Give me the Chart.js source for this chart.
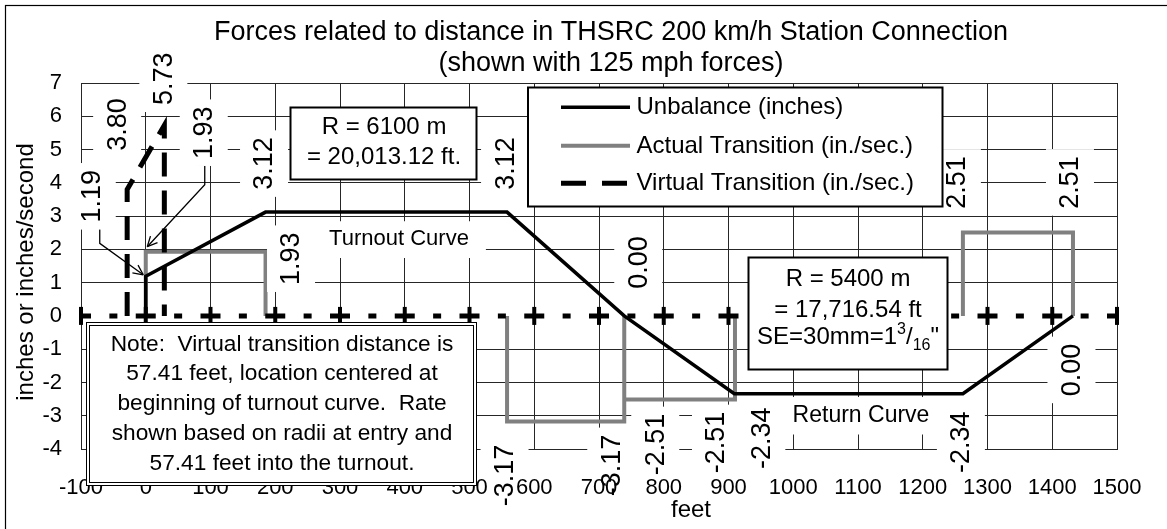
<!DOCTYPE html>
<html>
<head>
<meta charset="utf-8">
<title>Forces related to distance in THSRC 200 km/h Station Connection</title>
<script src="https://cdn.jsdelivr.net/npm/chart.js@4.4.0/dist/chart.umd.min.js"></script>
<style>
  html, body { margin: 0; padding: 0; overflow: hidden; background: #fff; }
  canvas { display: block; }
</style>
</head>
<body>
<canvas id="chart" width="1222" height="560"></canvas>
<script>
// ---- Data -------------------------------------------------------------
// Unbalance (inches) along the connection, by distance in feet
const unbalanceFeet   = [0, 0, 185, 558, 739, 909, 1262, 1432];
const unbalanceInches = [0, 1.19, 3.12, 3.12, 0, -2.34, -2.34, 0];

// Actual transition rate (in./sec.); null breaks the line where the rate sits on zero
const actualFeet = [0, 0, 185, 185, null, 558, 558, 739, 739, 739, 910, 910, null, 1262, 1262, 1432, 1432];
const actualRate = [0, 1.93, 1.93, 0, null, 0, -3.17, -3.17, 0, -2.51, -2.51, 0, null, 0, 2.51, 2.51, 0];

// Virtual transition rate (in./sec.), 57.41 ft centred on the turnout curve start
const virtualFeet = [-28.705, -28.705, 28.705, 28.705];
const virtualRate = [0, 3.80, 5.73, 0];

// Virtual transition at zero rate, drawn across the whole axis
const zeroLineFeet = [-100, 1500];
const zeroLineRate = [0, 0];

// Tick values
const xTickValues = [-100, 0, 100, 200, 300, 400, 500, 600, 700, 800, 900, 1000, 1100, 1200, 1300, 1400, 1500];
const yTickValues = [-4, -3, -2, -1, 0, 1, 2, 3, 4, 5, 6, 7];

// Which points carry a value label
const unbalanceLabelled = [1, 2, 3, 4, 5, 6, 7];
const actualLabelled    = [1, 2, 6, 7, 9, 10, 14, 15];
const virtualLabelled   = [1, 2];

// ---- Styling ----------------------------------------------------------
const FONT = "'Liberation Sans', Arial, Helvetica, sans-serif";
const GRID = '#262626';

// label centre offsets from the point, in pixels: [dx, dy, leader?]
const labelOffsets = {
  virtual:   { 1: [-10, -65], 2: [-1, -46.5] },
  unbalance: { 1: [-54, -80, [[-56, -54], [-46, -54], [-46, -33], [-2.5, -1.5]]],
               2: [-1.5, -48.5], 3: [-2, -48.5], 4: [14, -53.5],
               5: [27, 44.5], 6: [-2, 48.5], 7: [-1.5, 54] },
  actual:    { 1: [58, -119, [[50, -87], [59, -87], [59, -67], [1.5, -5]]],
               2: [25.5, 7], 6: [-2.5, 54], 7: [-13, 44],
               9: [31, 45], 10: [-19, 43], 14: [-6, -50], 15: [-3, -50] }
};

const pts = (xs, ys) => xs.map((x, i) => ({ x: x, y: ys[i] }));

function axisDash(chart) {
  const sx = chart.scales && chart.scales.x;
  let period = 64.75;
  if (sx && sx.width) period = sx.getPixelForValue(0) - sx.getPixelForValue(-100);
  const longDash = 20, shortDash = 8;
  const gap = (period - longDash - shortDash) / 2;
  return [longDash, gap, shortDash, gap];
}

function verticalLabel(ctx, text, cx, cy) {
  ctx.save();
  ctx.font = '27px ' + FONT;
  const w = ctx.measureText(text).width;
  ctx.fillStyle = '#fff';
  ctx.fillRect(cx - 24, cy - w / 2 - 7, 48, w + 14);
  ctx.translate(cx, cy);
  ctx.rotate(-Math.PI / 2);
  ctx.fillStyle = '#000';
  ctx.textAlign = 'center';
  ctx.textBaseline = 'middle';
  ctx.fillText(text, 0, 1);
  ctx.restore();
}

function leader(ctx, px, py, path) {
  ctx.save();
  ctx.strokeStyle = '#000';
  ctx.lineWidth = 1.3;
  ctx.beginPath();
  path.forEach((p, i) => {
    const x = px + p[0], y = py + p[1];
    if (i === 0) ctx.moveTo(x, y); else ctx.lineTo(x, y);
  });
  ctx.stroke();
  // open arrow head at the last point
  const a = path[path.length - 2], b = path[path.length - 1];
  const ang = Math.atan2(b[1] - a[1], b[0] - a[0]);
  const tx = px + b[0], ty = py + b[1];
  ctx.beginPath();
  [ang + Math.PI - 0.45, ang + Math.PI + 0.45].forEach(t => {
    ctx.moveTo(tx, ty);
    ctx.lineTo(tx + 11 * Math.cos(t), ty + 11 * Math.sin(t));
  });
  ctx.stroke();
  ctx.restore();
}

function textBox(ctx, x, y, w, h, lw) {
  ctx.save();
  ctx.fillStyle = '#fff';
  ctx.fillRect(x, y, w, h);
  ctx.strokeStyle = '#000';
  ctx.lineWidth = lw;
  ctx.strokeRect(x, y, w, h);
  ctx.restore();
}

function centredText(ctx, text, cx, baseline, size) {
  ctx.save();
  ctx.font = size + 'px ' + FONT;
  ctx.fillStyle = '#000';
  ctx.textAlign = 'center';
  ctx.textBaseline = 'alphabetic';
  ctx.fillText(text, cx, baseline);
  ctx.restore();
}

function labelWithPaper(ctx, text, cx, baseline, size, padX, padTop, padBottom) {
  ctx.save();
  ctx.font = size + 'px ' + FONT;
  const w = ctx.measureText(text).width;
  const cap = size * 0.716;
  ctx.fillStyle = '#fff';
  ctx.fillRect(cx - w / 2 - padX, baseline - cap - padTop, w + 2 * padX, cap + padTop + padBottom);
  ctx.restore();
  centredText(ctx, text, cx, baseline, size);
}

const decorations = {
  id: 'decorations',
  afterDatasetsDraw(chart) {
    const ctx = chart.ctx;
    const sx = chart.scales.x, sy = chart.scales.y;
    const y0 = sy.getPixelForValue(0);

    // cross tick marks on the zero axis
    ctx.save();
    ctx.fillStyle = '#000';
    xTickValues.forEach(v => {
      const x = sx.getPixelForValue(v);
      ctx.fillRect(x - 2, y0 - 9, 4, 18);
    });
    ctx.restore();

    // value labels
    const groups = [
      ['unbalance', unbalanceFeet, unbalanceInches, unbalanceLabelled],
      ['actual', actualFeet, actualRate, actualLabelled],
      ['virtual', virtualFeet, virtualRate, virtualLabelled]
    ];
    groups.forEach(([key, xs, ys, idx]) => {
      idx.forEach(i => {
        const px = sx.getPixelForValue(xs[i]);
        const py = sy.getPixelForValue(ys[i]);
        const off = labelOffsets[key][i];
        if (off[2]) leader(ctx, px, py, off[2]);
        verticalLabel(ctx, ys[i].toFixed(2), px + off[0], py + off[1]);
      });
    });
  },
  afterDraw(chart) {
    const ctx = chart.ctx;

    // title
    centredText(ctx, 'Forces related to distance in THSRC 200 km/h Station Connection', 611, 40, 27);
    centredText(ctx, '(shown with 125 mph forces)', 611, 71, 27);

    // axis titles
    ctx.save();
    ctx.font = '24px ' + FONT;
    ctx.fillStyle = '#000';
    ctx.textAlign = 'center';
    ctx.textBaseline = 'alphabetic';
    ctx.translate(33, 272);
    ctx.rotate(-Math.PI / 2);
    ctx.fillText('inches or inches/second', 0, 0);
    ctx.restore();
    centredText(ctx, 'feet', 691, 517, 24);

    // curve names
    labelWithPaper(ctx, 'Turnout Curve', 399, 245, 22, 17, 8, 13);
    labelWithPaper(ctx, 'Return Curve', 861, 421.5, 23, 16, 8, 13);

    // radius boxes
    textBox(ctx, 290.5, 107.5, 186, 72, 2);
    centredText(ctx, 'R = 6100 m', 384, 133.5, 24);
    centredText(ctx, '= 20,013.12 ft.', 384, 163.5, 24);

    textBox(ctx, 748.5, 257.5, 199, 112, 2);
    centredText(ctx, 'R = 5400 m', 848, 286, 24);
    centredText(ctx, '= 17,716.54 ft', 848, 317, 24);
    // SE=30mm=1 3/16"
    ctx.save();
    ctx.fillStyle = '#000';
    ctx.textBaseline = 'alphabetic';
    ctx.textAlign = 'left';
    const parts = [
      { t: 'SE=30mm=1', s: 24, dy: 0 },
      { t: '3', s: 16, dy: -10 },
      { t: '/', s: 24, dy: 0 },
      { t: '16', s: 16, dy: 6 },
      { t: '"', s: 24, dy: 0 }
    ];
    let total = 0;
    parts.forEach(p => { ctx.font = p.s + 'px ' + FONT; p.w = ctx.measureText(p.t).width; total += p.w; });
    let cx = 848 - total / 2;
    parts.forEach(p => { ctx.font = p.s + 'px ' + FONT; ctx.fillText(p.t, cx, 344 + p.dy); cx += p.w; });
    ctx.restore();

    // note box (double frame)
    ctx.save();
    ctx.fillStyle = '#fff';
    ctx.fillRect(86, 322, 391, 164);
    ctx.strokeStyle = '#000';
    ctx.lineWidth = 1;
    ctx.strokeRect(86.5, 322.5, 390, 163);
    ctx.strokeRect(89.5, 325.5, 384, 157);
    ctx.restore();
    const note = [
      'Note:  Virtual transition distance is',
      '57.41 feet, location centered at',
      'beginning of turnout curve.  Rate',
      'shown based on radii at entry and',
      '57.41 feet into the turnout.'
    ];
    note.forEach((line, i) => centredText(ctx, line, 282, 350.5 + i * 29.8, 22.7));

    // legend
    textBox(ctx, 528, 87.5, 414.5, 119, 2);
    const ds = chart.data.datasets;
    const rows = [[ds[2], 107.3], [ds[3], 145.7], [ds[1], 183.3]];
    rows.forEach(([d, y]) => {
      ctx.save();
      ctx.strokeStyle = d.borderColor;
      ctx.lineWidth = d.borderWidth;
      ctx.setLineDash(Array.isArray(d.borderDash) ? [25, 16] : []);
      ctx.beginPath();
      ctx.moveTo(561, y);
      ctx.lineTo(630, y);
      ctx.stroke();
      ctx.restore();
      ctx.save();
      ctx.font = '24px ' + FONT;
      ctx.fillStyle = '#000';
      ctx.textAlign = 'left';
      ctx.textBaseline = 'alphabetic';
      ctx.fillText(d.label, 636.5, y + 7);
      ctx.restore();
    });

    // chart frame
    ctx.save();
    ctx.strokeStyle = '#000';
    ctx.lineWidth = 1.2;
    ctx.strokeRect(5.5, 5.5, 1210, 548);
    ctx.restore();
  }
};

new Chart(document.getElementById('chart'), {
  type: 'line',
  data: {
    datasets: [
      { label: 'Virtual Transition (in./sec.) axis', data: pts(zeroLineFeet, zeroLineRate),
        borderColor: '#000', borderWidth: 5, borderDash: (c) => axisDash(c.chart), borderDashOffset: 10 },
      { label: 'Virtual Transition (in./sec.)', data: pts(virtualFeet, virtualRate),
        borderColor: '#000', borderWidth: 5, borderDash: [24, 14] },
      { label: 'Unbalance (inches)', data: pts(unbalanceFeet, unbalanceInches),
        borderColor: '#000', borderWidth: 3.5 },
      { label: 'Actual Transition (in./sec.)', data: pts(actualFeet, actualRate),
        borderColor: '#808080', borderWidth: 4, spanGaps: false }
    ]
  },
  options: {
    responsive: false,
    animation: false,
    devicePixelRatio: 1,
    events: [],
    layout: { padding: { left: 0, top: 83, right: 105, bottom: 51 } },
    elements: {
      line: { tension: 0, fill: false, borderCapStyle: 'butt', borderJoinStyle: 'miter' },
      point: { radius: 0, hoverRadius: 0 }
    },
    plugins: { legend: { display: false }, tooltip: { enabled: false }, title: { display: false } },
    scales: {
      x: {
        type: 'linear', min: -100, max: 1500,
        afterFit: (s) => { s.height = 60; },
        afterBuildTicks: (s) => { s.ticks = xTickValues.map(v => ({ value: v })); },
        ticks: { z: 1, padding: 26, autoSkip: false, maxRotation: 0, color: '#000',
                 font: { family: FONT, size: 22 }, callback: (v) => String(v) },
        grid: { color: GRID, lineWidth: 1, drawTicks: false },
        border: { color: GRID, width: 1 }
      },
      y: {
        type: 'linear', min: -4, max: 7,
        afterFit: (s) => { s.width = 81; },
        afterBuildTicks: (s) => { s.ticks = yTickValues.map(v => ({ value: v })); },
        ticks: { padding: 19, color: '#000', font: { family: FONT, size: 22 }, callback: (v) => String(v) },
        grid: { color: (c) => (c.tick && c.tick.value === 0 ? 'rgba(0,0,0,0)' : GRID), lineWidth: 1, drawTicks: false },
        border: { color: GRID, width: 1 }
      }
    }
  },
  plugins: [decorations]
});
</script>
</body>
</html>
